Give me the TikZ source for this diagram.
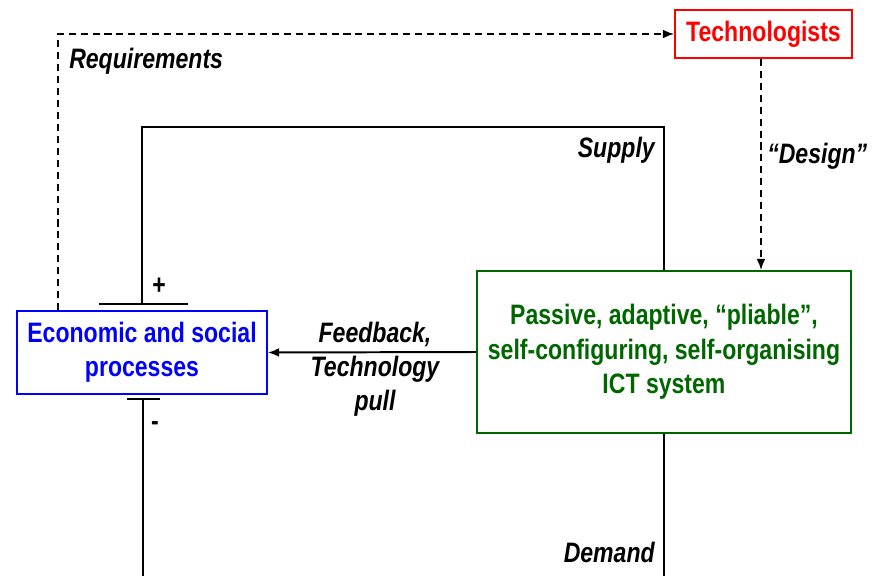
\documentclass[tikz,border=0pt]{standalone}
\usepackage{fontspec}
\setmainfont[FakeStretch=0.82]{Liberation Sans}
\usetikzlibrary{arrows.meta}

\definecolor{techred}{RGB}{255,0,0}
\definecolor{econblue}{RGB}{0,0,255}
\definecolor{ictgreen}{RGB}{0,102,0}

\tikzset{
	box/.style={draw,line width=1.2pt,align=center,inner sep=0pt,
		font=\fontsize{20}{24.5}\selectfont\bfseries},
	lbl/.style={inner sep=0pt,align=center,
		font=\fontsize{20}{24}\selectfont\bfseries\itshape},
	sign/.style={inner sep=0pt,font=\fontsize{20}{24}\selectfont\bfseries},
	wire/.style={line width=1.4pt},
	plate/.style={line width=2pt},
	dsh/.style={line width=1.3pt,dash pattern=on 5pt off 3.5pt},
	tip/.style={-{Latex[length=2.8mm,width=2.2mm]}},
}

\begin{document}
\begin{tikzpicture}[x=0.25mm,y=-0.25mm]
\useasboundingbox (0,0) rectangle (880,576);

% boxes
\node[box,draw=econblue,text=econblue,minimum width=62.5mm,minimum height=20.75mm]
	(econ) at (142,352.5) {Economic and social\\processes};
\node[box,draw=ictgreen,text=ictgreen,minimum width=93.5mm,minimum height=40.5mm]
	(ict) at (664,352) {Passive, adaptive, ``pliable'',\\self-configuring, self-organising\\ICT system};
\node[box,draw=techred,text=techred,minimum width=44.25mm,minimum height=12mm]
	(tech) at (763.5,34) {Technologists};

% plates
\coordinate (plus) at (142,304);
\coordinate (minus) at (143,399);
\draw[plate] (99,304) -- (188,304);
\draw[plate] (127,399) -- (160,399);
\node[sign] (plussign) at (159,286) {+};
\node[sign] (minussign) at (155,426) {-};

% loop
\coordinate (stop) at (142,127);
\coordinate (sbot) at (143,576);
\coordinate (dbot) at (664,576);
\draw[wire] (ict.north) |- (stop) -- (plus);
\draw[wire] (minus) -- (sbot);
\draw[wire] (ict.south) -- (dbot);
\draw[wire,tip] (ict.west) -- (econ.east);

% designer path
\coordinate (req) at (58,35);
\draw[dsh,tip] (econ.north -| req) |- (tech.west);
\draw[dsh,tip] (tech.south -| 761,0) -- (ict.north -| 761,0);

% labels
\node[lbl,anchor=base west] (reqlbl) at (69,68) {Requirements};
\node[lbl,anchor=base east] (suplbl) at (655,157) {Supply};
\node[lbl,anchor=base west] (deslbl) at (767,163) {``Design''};
\node[lbl,anchor=base] (fblbl) at (375,410) {Feedback,\\Technology\\pull};
\node[lbl,anchor=base east] (demlbl) at (655,562) {Demand};
\end{tikzpicture}
\end{document}
